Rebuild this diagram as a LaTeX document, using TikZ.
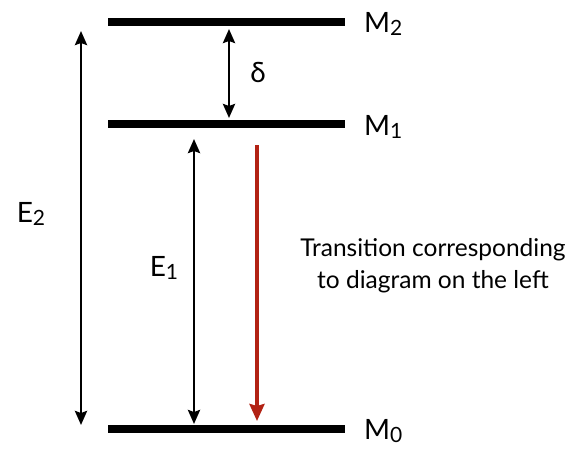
\documentclass[tikz,border=0pt]{standalone}
\usepackage{fontspec}
\setmainfont{Lato}
\usetikzlibrary{arrows.meta}
\definecolor{transred}{RGB}{178,34,20}
\newcommand{\lsub}[1]{\raisebox{-3pt}{\fontsize{21}{21}\selectfont #1}}
\begin{document}
\begin{tikzpicture}[x=1pt,y=-1pt,
  level/.style={line width=7.5pt},
  energy/.style={line width=2.8pt,{Stealth[length=14pt,width=12pt,inset=2pt]}-{Stealth[length=14pt,width=12pt,inset=2pt]}},
  trans/.style={line width=3.4pt,transred,-{Stealth[length=17pt,width=15pt,inset=2pt]}},
  lvlabel/.style={anchor=west,font=\fontsize{28}{30}\selectfont,inner sep=0pt},
  lbl/.style={font=\fontsize{28}{30}\selectfont,inner sep=0pt},
  note/.style={font=\fontsize{24.5}{32}\selectfont,align=center,inner sep=0pt}]
\useasboundingbox (0,0) rectangle (587,450);
% levels
\coordinate (m2a) at (108,22); \coordinate (m2b) at (345,22);
\coordinate (m1a) at (108,124); \coordinate (m1b) at (345,124);
\coordinate (m0a) at (108,429); \coordinate (m0b) at (345,429);
\draw[level] (m2a) -- (m2b);
\draw[level] (m1a) -- (m1b);
\draw[level] (m0a) -- (m0b);
\node[lvlabel] (M2) at (364,24) {M\lsub{2}};
\node[lvlabel] (M1) at (364,127) {M\lsub{1}};
\node[lvlabel] (M0) at (364,431) {M\lsub{0}};
% arrows
\coordinate (d1) at (229,29); \coordinate (d2) at (229,118);
\draw[energy] (d1) -- (d2);
\node[lbl] (delta) at (258,72) {δ};
\coordinate (e2t) at (81,31); \coordinate (e2b) at (81,425);
\draw[energy] (e2t) -- (e2b);
\node[lbl] (E2) at (31,214) {E\lsub{2}};
\coordinate (e1t) at (194,139); \coordinate (e1b) at (194,424);
\draw[energy] (e1t) -- (e1b);
\node[lbl] (E1) at (164,268) {E\lsub{1}};
\coordinate (rt) at (257,145); \coordinate (rb) at (257,421);
\draw[trans] (rt) -- (rb);
\node[note] (tr) at (433,266) {Transition corresponding\\to diagram on the left};
\end{tikzpicture}
\end{document}
